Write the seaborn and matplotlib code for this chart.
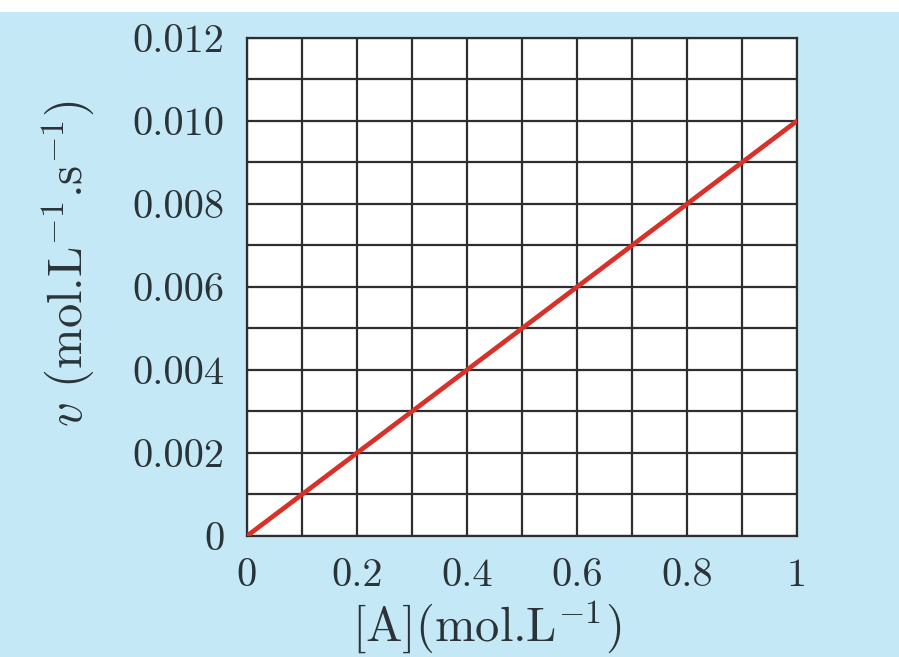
import matplotlib
matplotlib.use("Agg")
import matplotlib.pyplot as plt
import seaborn as sns
import pandas as pd
from matplotlib.patches import Rectangle

# Data
conc = [0.0, 1.0]          # [A] (mol.L^-1)
rate = [0.0, 0.010]        # v (mol.L^-1.s^-1)
x_ticks = [0, 0.2, 0.4, 0.6, 0.8, 1]
x_tick_labels = ["0", "0.2", "0.4", "0.6", "0.8", "1"]
y_ticks = [0, 0.002, 0.004, 0.006, 0.008, 0.010, 0.012]
y_tick_labels = ["0", "0.002", "0.004", "0.006", "0.008", "0.010", "0.012"]
x_grid = [0.1 * i for i in range(11)]
y_grid = [0.001 * i for i in range(13)]

sns.set_theme(style="white")
plt.rcParams["font.family"] = ["cmr10", "DejaVu Serif"]
plt.rcParams["mathtext.fontset"] = "cm"
plt.rcParams["axes.formatter.use_mathtext"] = True

bg = "#c4e8f5"
fig = plt.figure(figsize=(8.99, 6.57), dpi=100, facecolor=bg)
fig.patches.append(Rectangle((0, 0.982), 1, 0.02, transform=fig.transFigure,
                             facecolor="white", edgecolor="none", zorder=0))
ax = fig.add_axes([0.2747, 0.1842, 0.6118, 0.758])
ax.set_facecolor("white")

df = pd.DataFrame({"A": conc, "v": rate})
sns.lineplot(data=df, x="A", y="v", ax=ax, color="#d8312a", linewidth=3.4, zorder=5)

ax.set_xlim(0, 1)
ax.set_ylim(0, 0.012)
for gx in x_grid:
    ax.axvline(gx, color="#2e2e2e", linewidth=1.6, zorder=2)
for gy in y_grid:
    ax.axhline(gy, color="#2e2e2e", linewidth=1.6, zorder=2)

ax.set_xticks(x_ticks)
ax.set_xticklabels(x_tick_labels)
ax.set_yticks(y_ticks)
ax.set_yticklabels(y_tick_labels)
ax.tick_params(axis="both", direction="out", length=13, width=1.6,
               color="#2e2e2e", labelsize=29, labelcolor="#2a3438", pad=3)
for s in ax.spines.values():
    s.set_color("#2e2e2e")
    s.set_linewidth(1.6)

ax.set_xlabel(r"[A](mol.L$^{-1}$)", fontsize=35, color="#2a3438", va="center")
ax.xaxis.set_label_coords(0.436, -0.183)
ax.set_ylabel(r"$v$ (mol.L$^{-1}$.s$^{-1}$)", fontsize=35, color="#2a3438", va="center")
ax.yaxis.set_label_coords(-0.327, 0.546)

fig.savefig("out.png", dpi=100, facecolor=bg)
